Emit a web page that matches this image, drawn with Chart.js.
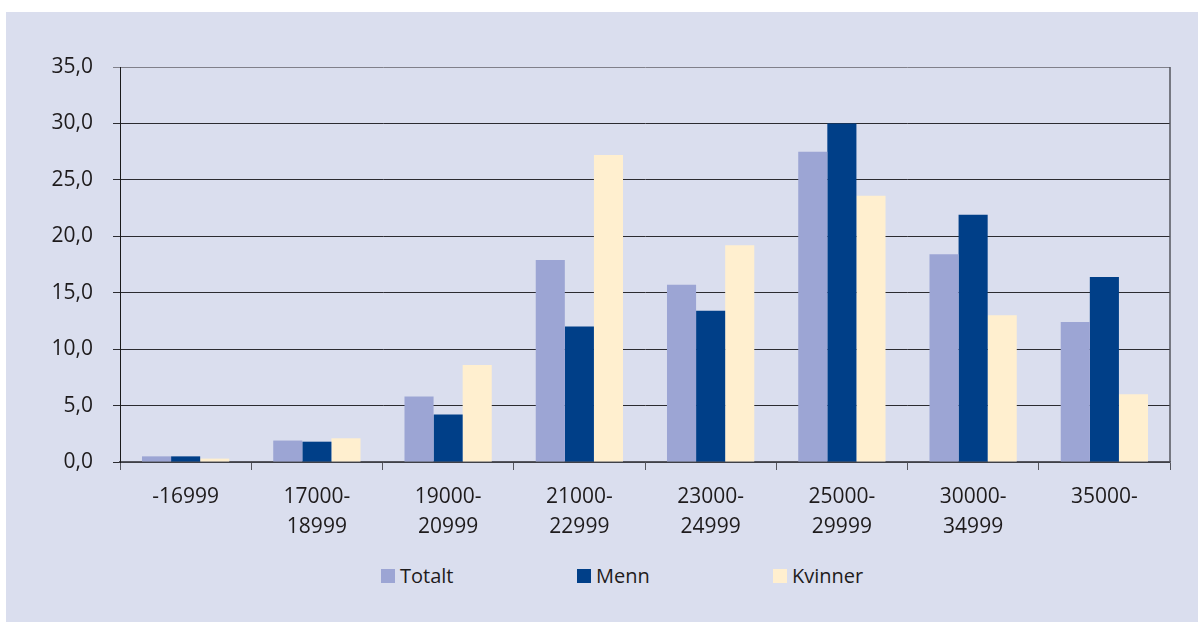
<!DOCTYPE html>
<html>
<head>
<meta charset="utf-8">
<script src="https://cdn.jsdelivr.net/npm/chart.js@4/dist/chart.umd.min.js"></script>
<style>
    body { margin: 0; background: #fff; width: 1198px; height: 623px; overflow: hidden; font-family: 'Open Sans', sans-serif; }
    .panel { position: absolute; left: 6px; top: 12px; width: 1192px; height: 610px; background: #dadeee; }
    .chart-box { position: absolute; left: 0; top: 0; width: 1192px; height: 545px; }
    .legend { position: absolute; left: 375px; top: 551px; display: flex; }
    .legend-item { width: 196px; display: flex; align-items: center; font-size: 20px; color: #1e1b1c; line-height: 26px; }
    .legend-dot { width: 14px; height: 14px; margin-right: 5px; }
</style>
</head>
<body>
<div class="panel">
    <div class="chart-box"><canvas id="incomeChart"></canvas></div>
    <div class="legend" id="chartLegend"></div>
</div>
<script>
// Income brackets (NOK / month), share of employees in percent
const categories = [
    ['-16999'],
    ['17000-', '18999'],
    ['19000-', '20999'],
    ['21000-', '22999'],
    ['23000-', '24999'],
    ['25000-', '29999'],
    ['30000-', '34999'],
    ['35000-']
];

const totalt  = [0.5, 1.9, 5.8, 17.9, 15.7, 27.5, 18.4, 12.4];
const menn    = [0.5, 1.8, 4.2, 12.0, 13.4, 30.0, 21.9, 16.4];
const kvinner = [0.3, 2.1, 8.6, 27.2, 19.2, 23.6, 13.0, 6.0];

const seriesNames = ['Totalt', 'Menn', 'Kvinner'];
const SERIES_COLORS = ['#9ca5d4', '#003f88', '#ffefcf'];

const yMin = 0;
const yMax = 35;
const yStep = 5;

Chart.defaults.font.family = "'Open Sans', sans-serif";
Chart.defaults.font.size = 21;
Chart.defaults.color = '#1e1b1c';

// right-hand frame of the plot area
const frameRight = {
    id: 'frameRight',
    afterDraw(chart) {
        const { ctx, chartArea } = chart;
        ctx.save();
        ctx.strokeStyle = '#55565e';
        ctx.lineWidth = 1.5;
        ctx.beginPath();
        ctx.moveTo(chartArea.right, chartArea.top);
        ctx.lineTo(chartArea.right, chartArea.bottom);
        ctx.stroke();
        ctx.restore();
    }
};

const ctx = document.getElementById('incomeChart');

new Chart(ctx, {
    type: 'bar',
    data: {
        labels: categories,
        datasets: [totalt, menn, kvinner].map((values, i) => ({
            label: seriesNames[i],
            data: values,
            backgroundColor: SERIES_COLORS[i],
            borderWidth: 0,
            categoryPercentage: 0.665,
            barPercentage: 1.0
        }))
    },
    options: {
        responsive: true,
        maintainAspectRatio: false,
        animation: false,
        layout: { padding: { left: 0, right: 28, top: 55, bottom: 0 } },
        plugins: {
            legend: { display: false },
            tooltip: { enabled: false }
        },
        scales: {
            x: {
                grid: {
                    offset: true,
                    drawOnChartArea: false,
                    drawTicks: true,
                    tickLength: 8,
                    color: '#55565e'
                },
                border: { color: '#55565e', width: 1.5 },
                ticks: {
                    padding: 12,
                    maxRotation: 0,
                    autoSkip: false,
                    font: { size: 21, lineHeight: 1.43 }
                },
                afterFit: (scale) => { scale.height = 95; }
            },
            y: {
                min: yMin,
                max: yMax,
                grid: {
                    color: (c) => c.tick && c.tick.value === yMax ? '#80808a' : '#2b2b30',
                    lineWidth: 1,
                    tickLength: 7
                },
                border: { color: '#1a1a1a', width: 1 },
                ticks: {
                    stepSize: yStep,
                    padding: 20,
                    callback: (v) => v.toFixed(1).replace('.', ',')
                },
                afterFit: (scale) => { scale.width = 114; }
            }
        }
    },
    plugins: [frameRight]
});

// HTML legend with evenly spaced items
const legendEl = document.getElementById('chartLegend');
legendEl.innerHTML = seriesNames
    .map((name, i) => `<span class="legend-item"><span class="legend-dot" style="background:${SERIES_COLORS[i]}"></span>${name}</span>`)
    .join('');
</script>
</body>
</html>
